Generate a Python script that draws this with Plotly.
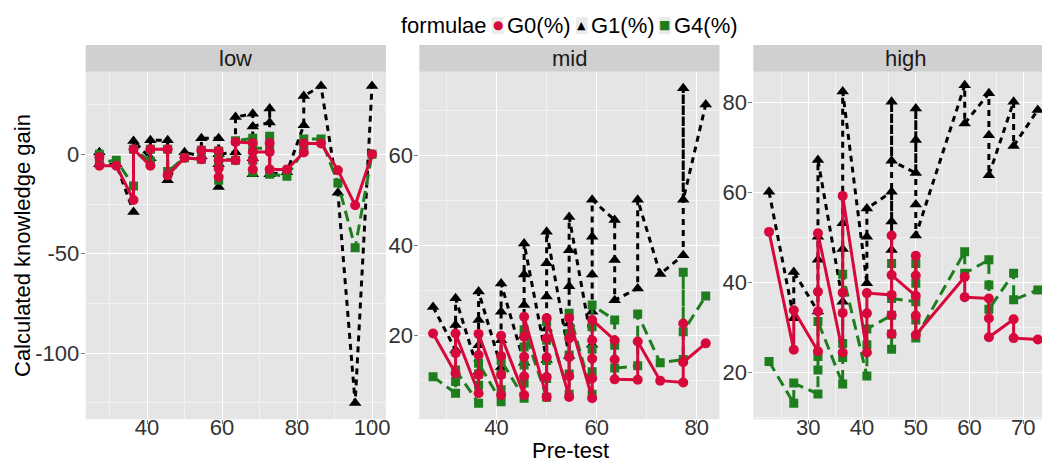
import plotly.graph_objects as go

# ---------------- data ----------------
# facet "low"
low_x = [27.3, 27.3, 31.8, 36.4, 36.4, 40.9, 40.9, 45.5, 45.5, 50.0, 54.5, 54.5,
         59.1, 59.1, 59.1, 59.1, 63.6, 63.6, 68.2, 68.2, 68.2, 68.2, 72.7, 72.7, 72.7,
         77.3, 81.8, 81.8, 86.4, 90.9, 95.5, 100.0]
low_g0 = [-1.4, -5.8, -5.8, -23, 2.5, -5.8, 2.5, 2.5, -10.6, -1.8, -2.5, 2,
          1.7, -11.4, -7.2, -3, -3, 6.2, 5.7, -7.5, -3, 1.2, 1.2, 5.7, -7.6,
          -7.6, 0.9, 5.4, 5.4, -8, -25.6, 0]
low_g1 = [1, -5, -5, -29, 6.7, -2, 7, 7, -13, 1, -1, 8,
          8, -16.4, -5, 0, 1, 18.7, 20.4, -10, -2, 14, 16, 23, -10,
          -9, 14.6, 29.3, 34.3, -19.4, -125, 34.3]
low_g4 = [0, -4, -3, -16, 2.5, -3.5, 2.5, 2.5, -8.7, -1.8, -2.5, 2,
          1.7, -13, -6, -2, -3, 6.8, 8, -9, -3, 3, 3, 9, -10,
          -11, 2, 7.7, 7.7, -14.4, -47, 0]

# facet "mid"
mid_x = [27.3, 31.8, 31.8, 31.8, 36.4, 36.4, 36.4, 36.4, 40.9, 40.9, 40.9, 40.9,
         45.5, 45.5, 45.5, 45.5, 45.5, 50.0, 50.0, 50.0, 50.0, 50.0,
         54.5, 54.5, 54.5, 54.5, 54.5, 59.1, 59.1, 59.1, 59.1, 59.1,
         63.6, 63.6, 63.6, 68.2, 68.2, 72.7, 77.3, 77.3, 77.3, 81.8]
mid_g0 = [20.5, 11.6, 16.1, 20.5, 7.2, 11.3, 15.7, 20.4, 6.8, 11.3, 15.5, 20,
          6.8, 11, 15.3, 19.8, 24.2, 6.4, 10.8, 15.2, 19.4, 23.9,
          6.4, 11, 15.2, 19.4, 23.9, 6.1, 10.5, 14.9, 19, 23.5,
          19, 14.7, 10.3, 10.2, 18.7, 10, 9.6, 22.7, 14.1, 18.3]
mid_g1 = [26.4, 16.8, 22.4, 28.3, 12, 17.9, 23.5, 29.8, 13, 19, 25.3, 31.6,
          14, 20, 26.8, 33.6, 40.5, 14.6, 21.6, 28.7, 36.1, 43.1,
          15.5, 22.7, 31, 39, 46.4, 18, 25.3, 33.6, 42, 50.2,
          45.7, 36.8, 27.9, 30.5, 50.2, 33.7, 37.9, 75, 50.2, 71.4]
mid_g4 = [10.9, 7.2, 9.8, 12.4, 5, 9, 11.5, 13.9, 5.3, 8, 11.5, 14.5,
          6.1, 9.5, 13.5, 17.5, 21.3, 6.3, 10.5, 14.5, 19, 23.1,
          7, 11.5, 15.7, 20.5, 25, 7, 12, 17, 22, 26.8,
          23.5, 17.9, 12.8, 13.3, 24.8, 14, 14.7, 34.1, 20.9, 28.8]

# facet "high"
high_x = [22.7, 27.3, 27.3, 31.8, 31.8, 31.8, 31.8, 36.4, 36.4, 36.4, 36.4,
          40.9, 40.9, 40.9, 45.5, 45.5, 45.5, 45.5, 45.5, 50.0, 50.0, 50.0, 50.0, 50.0,
          59.1, 59.1, 63.6, 63.6, 63.6, 68.2, 68.2, 72.7]
high_g0 = [51.2, 25, 33.8, 24.7, 33.5, 37.9, 50.9, 24.4, 33.2, 37.7, 59.2,
           24.4, 33.1, 37.6, 37.2, 28.5, 32.7, 50.4, 41.6, 37, 41.5, 45.9, 32.6, 28.3,
           41.2, 36.7, 36.4, 32, 27.8, 31.8, 27.6, 27.3]
high_g1 = [60.1, 32, 42.3, 33.5, 45, 50.1, 67.2, 35.7, 47.4, 53.1, 82.4,
           39.8, 50.1, 56.4, 60.1, 47.2, 53.5, 80.1, 67, 64.3, 71.6, 78.6, 57.3, 50.4,
           83.8, 75.3, 82, 72.7, 63.8, 80.1, 70.3, 78.3]
high_g4 = [22.4, 13.1, 17.6, 15.2, 20.5, 23.5, 31.3, 17.4, 23.3, 26.4, 41.8,
           19.2, 26.1, 29.6, 32.7, 25.1, 28.5, 44.2, 36.4, 35.7, 39.8, 44.2, 31.6, 27.6,
           46.8, 42, 45, 39.4, 34, 42, 36.1, 38.3]

facet_names = ["low", "mid", "high"]
series_names = ["G0(%)", "G1(%)", "G4(%)"]
x_tick_labels = [[40, 60, 80, 100], [40, 60, 80], [30, 40, 50, 60, 70]]
y_tick_labels = [[-100, -50, 0], [20, 40, 60], [20, 40, 60, 80]]

# ---------------- layout helpers ----------------
W, H = 1042, 464
def px_x(p):
    return p / W
def px_y(p):
    return 1 - p / H

panel_px = [(85.7, 385.9), (419.3, 719.5), (753.3, 1042)]
panel_top, panel_bot = 71.7, 419.3
strip_top = 45.0
x_ranges = [[23.65, 103.7], [24.55, 84.55], [19.77, 73.48]]
y_ranges = [[-133.2, 41.5], [1.42, 78.67], [9.56, 86.8]]
x_minor = [[30, 50, 70, 90], [30, 50, 70], [25, 35, 45, 55, 65]]
y_minor = [[-125, -75, -25, 25], [10, 30, 50, 70], [10, 30, 50, 70]]

styles = {
    "G0(%)": dict(color="#D7083B", dash="solid", symbol="circle", size=10),
    "G1(%)": dict(color="#000000", dash="6px,5px", symbol="triangle-up", size=11),
    "G4(%)": dict(color="#1E7E1E", dash="11px,6px", symbol="square", size=9),
}

facet_data = [
    (low_x, {"G0(%)": low_g0, "G1(%)": low_g1, "G4(%)": low_g4}),
    (mid_x, {"G0(%)": mid_g0, "G1(%)": mid_g1, "G4(%)": mid_g4}),
    (high_x, {"G0(%)": high_g0, "G1(%)": high_g1, "G4(%)": high_g4}),
]

fig = go.Figure()
for i, (xs, ser) in enumerate(facet_data):
    ax = "" if i == 0 else str(i + 1)
    for name in ["G1(%)", "G4(%)", "G0(%)"]:
        st = styles[name]
        fig.add_trace(go.Scatter(
            x=xs, y=ser[name], mode="lines+markers", name=name,
            xaxis="x" + ax, yaxis="y" + ax, showlegend=False,
            line=dict(color=st["color"], width=3, dash=st["dash"]),
            marker=dict(color=st["color"], symbol=st["symbol"], size=st["size"],
                        line=dict(width=0)),
        ))

tick_font = dict(family="Liberation Sans, Arial, sans-serif", size=22, color="#333333")
layout = dict(
    width=W, height=H, margin=dict(l=0, r=0, t=0, b=0),
    paper_bgcolor="white", plot_bgcolor="#E5E5E5", showlegend=False,
    font=dict(family="Liberation Sans, Arial, sans-serif", size=22, color="#1A1A1A"),
)
shapes = []
annotations = []
for i in range(3):
    ax = "" if i == 0 else str(i + 1)
    x0, x1 = panel_px[i]
    layout["xaxis" + ax] = dict(
        domain=[px_x(x0), px_x(x1)], range=x_ranges[i], anchor="y" + ax,
        tickmode="array", tickvals=x_tick_labels[i], ticktext=[str(v) for v in x_tick_labels[i]],
        ticks="outside", ticklen=4, tickwidth=1, tickcolor="#7F7F7F",
        showgrid=True, gridcolor="white", gridwidth=1.3, zeroline=False, showline=False,
        tickfont=tick_font, automargin=False, ticklabelstandoff=-16,
        minor=dict(tickmode="array", tickvals=x_minor[i], showgrid=True,
                   gridcolor="#F2F2F2", gridwidth=0.6, ticks=""),
    )
    layout["yaxis" + ax] = dict(
        domain=[px_y(panel_bot), px_y(panel_top)], range=y_ranges[i], anchor="x" + ax,
        tickmode="array", tickvals=y_tick_labels[i], ticktext=[str(v) for v in y_tick_labels[i]],
        ticks="outside", ticklen=4, tickwidth=1, tickcolor="#7F7F7F",
        showgrid=True, gridcolor="white", gridwidth=1.3, zeroline=False, showline=False,
        tickfont=tick_font, automargin=False, ticklabelstandoff=-3,
        minor=dict(tickmode="array", tickvals=y_minor[i], showgrid=True,
                   gridcolor="#F2F2F2", gridwidth=0.6, ticks=""),
    )
    # strip
    shapes.append(dict(type="rect", xref="paper", yref="paper",
                       x0=px_x(x0), x1=px_x(x1), y0=px_y(panel_top), y1=px_y(strip_top),
                       fillcolor="#D0D0D0", line=dict(width=0), layer="below"))
    cx = (x0 + x1) / 2 if i < 2 else (x0 + 1058) / 2
    annotations.append(dict(text=facet_names[i], xref="paper", yref="paper",
                            x=px_x(cx), y=px_y((strip_top + panel_top) / 2), showarrow=False,
                            xanchor="center", yanchor="middle",
                            font=dict(size=22, color="#1A1A1A")))

# axis titles
annotations.append(dict(text="Pre-test", xref="paper", yref="paper", x=px_x(570), y=0,
                        showarrow=False, xanchor="center", yanchor="bottom", borderpad=0,
                        font=dict(size=22, color="#000000")))
annotations.append(dict(text="Calculated knowledge gain", xref="paper", yref="paper",
                        x=px_x(22), y=px_y(246), textangle=-90, showarrow=False,
                        xanchor="center", yanchor="middle",
                        font=dict(size=22, color="#000000")))

# legend (custom, ggplot style)
leg_y = 25
annotations.append(dict(text="formulae", xref="paper", yref="paper", x=px_x(399), y=px_y(leg_y),
                        showarrow=False, xanchor="left", yanchor="middle",
                        font=dict(size=22, color="#000000")))
key_x = {"G0(%)": 491.7, "G1(%)": 576.0, "G4(%)": 659.0}
key_glyph = {"G0(%)": "●", "G1(%)": "▲", "G4(%)": "■"}
key_size = {"G0(%)": 12, "G1(%)": 11, "G4(%)": 12}
for name in series_names:
    kx = key_x[name]
    shapes.append(dict(type="rect", xref="paper", yref="paper",
                       x0=px_x(kx), x1=px_x(kx + 11.7), y0=px_y(34), y1=px_y(17),
                       fillcolor="#EBEBEB", line=dict(width=0)))
    annotations.append(dict(text=key_glyph[name], xref="paper", yref="paper",
                            x=px_x(kx + 5.85), y=px_y(25.5), showarrow=False,
                            xanchor="center", yanchor="middle",
                            font=dict(size=key_size[name], color=styles[name]["color"],
                                      family="DejaVu Sans")))
    annotations.append(dict(text=name, xref="paper", yref="paper",
                            x=px_x(kx + 13), y=px_y(leg_y), showarrow=False,
                            xanchor="left", yanchor="middle",
                            font=dict(size=22, color="#000000")))

layout["shapes"] = shapes
layout["annotations"] = annotations
fig.update_layout(**layout)
fig.write_html("out.html")
